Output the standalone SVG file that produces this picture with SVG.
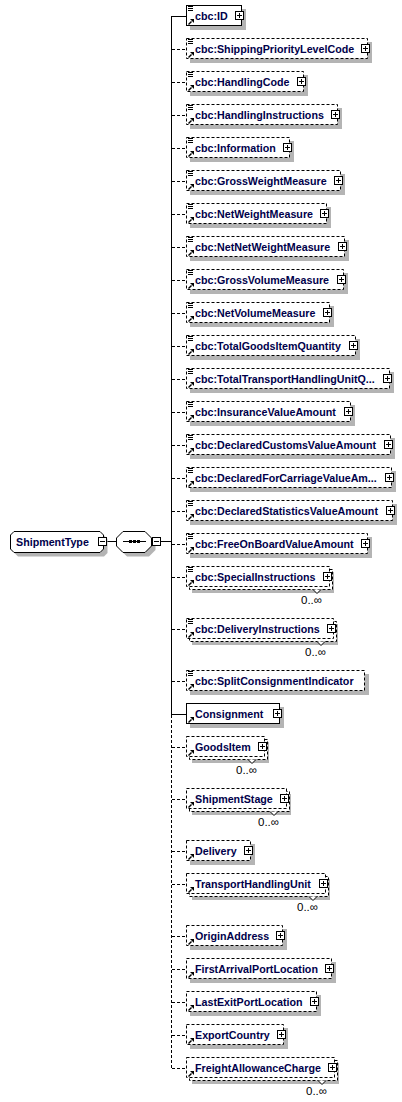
<svg xmlns="http://www.w3.org/2000/svg" xmlns:xlink="http://www.w3.org/1999/xlink" width="402" height="1102" viewBox="0 0 402 1102">
<style>
.sh{fill:#b4b4b4}
.box{fill:#fff;stroke:#000;stroke-width:1}
.opt{stroke-dasharray:3,2}
.t{font-family:"Liberation Sans",Arial,sans-serif;font-size:10.7px;font-weight:bold;fill:#00004a}
.m{font-family:"Liberation Sans",Arial,sans-serif;font-size:11.5px;fill:#000;text-anchor:end}
.ln{fill:none;stroke:#000;stroke-width:1}
.notch{fill:#fff;stroke:#000;stroke-width:1}
</style>
<defs>
<g id="plus"><rect x="0.5" y="-4.5" width="8" height="8" fill="#fff" stroke="#000"/><path d="M2,-0.5h5M4.5,-3v5" stroke="#000" fill="none"/></g>
<g id="minus"><rect x="0.5" y="-4.5" width="8" height="8" fill="#fff" stroke="#000"/><path d="M2,-0.5h5" stroke="#000" fill="none"/></g>
<path id="eq" d="M188,-9.5h5M188,-7.5h5M188,-5.5h5" stroke="#000" fill="none"/>
<g id="arr"><path d="M188.5,8.5L191.5,5.5" stroke="#000" stroke-width="1.4" fill="none"/><polygon points="190,3 194,3 194,7" fill="#000"/></g>
</defs>

<g id="connectors" class="ln">
<path d="M106,541.5H117M160,541.5H171"/>
<path d="M171.5,16V715"/>
<path class="opt" d="M171.5,715V1069"/>
<path d="M171,16.5H186M171,714.5H186"/>
<path class="opt" d="M172,49.5H186M172,82.5H186M172,115.5H186M172,148.5H186M172,181.5H186M172,214.5H186M172,247.5H186M172,280.5H186M172,313.5H186M172,346.5H186M172,379.5H186M172,412.5H186M172,445.5H186M172,478.5H186M172,511.5H186M172,544.5H186M172,577.5H186M172,629.5H186M172,681.5H186M172,747.5H186M172,799.5H186M172,851.5H186M172,884.5H186M172,936.5H186M172,969.5H186M172,1002.5H186M172,1035.5H186M172,1068.5H186"/>
</g>

<g id="n-ShipmentType">
<polygon class="sh" points="18,535.5 104,535.5 107.5,539 107.5,553 104,556.5 18,556.5 14.5,553 14.5,539"/>
<polygon class="box" points="14,531.5 100,531.5 103.5,535 103.5,549 100,552.5 14,552.5 10.5,549 10.5,535"/>
<text class="t" x="16" y="546">ShipmentType</text>
<use xlink:href="#minus" x="98" y="542"/>
</g>

<g id="n-sequence">
<polygon class="sh" points="127,535.5 149,535.5 155.5,542 155.5,550 149,556.5 127,556.5 120.5,550 120.5,542"/>
<polygon class="box" points="123,531.5 145,531.5 151.5,538 151.5,546 145,552.5 123,552.5 116.5,546 116.5,538"/>
<path d="M123,541.5H146" stroke="#000" fill="none"/>
<rect x="129" y="540" width="3" height="3" fill="#000"/>
<rect x="133" y="540" width="3" height="3" fill="#000"/>
<rect x="137" y="540" width="3" height="3" fill="#000"/>
<use xlink:href="#minus" x="152" y="542"/>
</g>

<g id="n-ID">
<rect class="sh" x="190" y="9" width="56" height="21"/>
<rect class="box" x="186.5" y="5.5" width="55" height="20"/>
<use xlink:href="#eq" y="16"/><use xlink:href="#arr" y="16"/>
<text class="t" x="195" y="20">cbc:ID</text>
<use xlink:href="#plus" x="235" y="16"/>
</g>

<g id="n-ShippingPriorityLevelCode">
<rect class="sh" x="190" y="42" width="182" height="21"/>
<rect class="box opt" x="186.5" y="38.5" width="181" height="20"/>
<use xlink:href="#eq" y="49"/><use xlink:href="#arr" y="49"/>
<text class="t" x="195" y="53">cbc:ShippingPriorityLevelCode</text>
<use xlink:href="#plus" x="361" y="49"/>
</g>

<g id="n-HandlingCode">
<rect class="sh" x="190" y="75" width="118" height="21"/>
<rect class="box opt" x="186.5" y="71.5" width="117" height="20"/>
<use xlink:href="#eq" y="82"/><use xlink:href="#arr" y="82"/>
<text class="t" x="195" y="86">cbc:HandlingCode</text>
<use xlink:href="#plus" x="297" y="82"/>
</g>

<g id="n-HandlingInstructions">
<rect class="sh" x="190" y="108" width="152" height="21"/>
<rect class="box opt" x="186.5" y="104.5" width="151" height="20"/>
<use xlink:href="#eq" y="115"/><use xlink:href="#arr" y="115"/>
<text class="t" x="195" y="119">cbc:HandlingInstructions</text>
<use xlink:href="#plus" x="331" y="115"/>
</g>

<g id="n-Information">
<rect class="sh" x="190" y="141" width="104" height="21"/>
<rect class="box opt" x="186.5" y="137.5" width="103" height="20"/>
<use xlink:href="#eq" y="148"/><use xlink:href="#arr" y="148"/>
<text class="t" x="195" y="152">cbc:Information</text>
<use xlink:href="#plus" x="283" y="148"/>
</g>

<g id="n-GrossWeightMeasure">
<rect class="sh" x="190" y="174" width="155" height="21"/>
<rect class="box opt" x="186.5" y="170.5" width="154" height="20"/>
<use xlink:href="#eq" y="181"/><use xlink:href="#arr" y="181"/>
<text class="t" x="195" y="185">cbc:GrossWeightMeasure</text>
<use xlink:href="#plus" x="334" y="181"/>
</g>

<g id="n-NetWeightMeasure">
<rect class="sh" x="190" y="207" width="141" height="21"/>
<rect class="box opt" x="186.5" y="203.5" width="140" height="20"/>
<use xlink:href="#eq" y="214"/><use xlink:href="#arr" y="214"/>
<text class="t" x="195" y="218">cbc:NetWeightMeasure</text>
<use xlink:href="#plus" x="320" y="214"/>
</g>

<g id="n-NetNetWeightMeasure">
<rect class="sh" x="190" y="240" width="159" height="21"/>
<rect class="box opt" x="186.5" y="236.5" width="158" height="20"/>
<use xlink:href="#eq" y="247"/><use xlink:href="#arr" y="247"/>
<text class="t" x="195" y="251">cbc:NetNetWeightMeasure</text>
<use xlink:href="#plus" x="338" y="247"/>
</g>

<g id="n-GrossVolumeMeasure">
<rect class="sh" x="190" y="273" width="158" height="21"/>
<rect class="box opt" x="186.5" y="269.5" width="157" height="20"/>
<use xlink:href="#eq" y="280"/><use xlink:href="#arr" y="280"/>
<text class="t" x="195" y="284">cbc:GrossVolumeMeasure</text>
<use xlink:href="#plus" x="337" y="280"/>
</g>

<g id="n-NetVolumeMeasure">
<rect class="sh" x="190" y="306" width="144" height="21"/>
<rect class="box opt" x="186.5" y="302.5" width="143" height="20"/>
<use xlink:href="#eq" y="313"/><use xlink:href="#arr" y="313"/>
<text class="t" x="195" y="317">cbc:NetVolumeMeasure</text>
<use xlink:href="#plus" x="323" y="313"/>
</g>

<g id="n-TotalGoodsItemQuantity">
<rect class="sh" x="190" y="339" width="170" height="21"/>
<rect class="box opt" x="186.5" y="335.5" width="169" height="20"/>
<use xlink:href="#eq" y="346"/><use xlink:href="#arr" y="346"/>
<text class="t" x="195" y="350">cbc:TotalGoodsItemQuantity</text>
<use xlink:href="#plus" x="349" y="346"/>
</g>

<g id="n-TotalTransportHandlingUnitQuantity">
<rect class="sh" x="190" y="372" width="204" height="21"/>
<rect class="box opt" x="186.5" y="368.5" width="203" height="20"/>
<use xlink:href="#eq" y="379"/><use xlink:href="#arr" y="379"/>
<text class="t" x="195" y="383">cbc:TotalTransportHandlingUnitQ...</text>
<use xlink:href="#plus" x="383" y="379"/>
</g>

<g id="n-InsuranceValueAmount">
<rect class="sh" x="190" y="405" width="165" height="21"/>
<rect class="box opt" x="186.5" y="401.5" width="164" height="20"/>
<use xlink:href="#eq" y="412"/><use xlink:href="#arr" y="412"/>
<text class="t" x="195" y="416">cbc:InsuranceValueAmount</text>
<use xlink:href="#plus" x="344" y="412"/>
</g>

<g id="n-DeclaredCustomsValueAmount">
<rect class="sh" x="190" y="438" width="205" height="21"/>
<rect class="box opt" x="186.5" y="434.5" width="204" height="20"/>
<use xlink:href="#eq" y="445"/><use xlink:href="#arr" y="445"/>
<text class="t" x="195" y="449">cbc:DeclaredCustomsValueAmount</text>
<use xlink:href="#plus" x="384" y="445"/>
</g>

<g id="n-DeclaredForCarriageValueAmount">
<rect class="sh" x="190" y="471" width="206" height="21"/>
<rect class="box opt" x="186.5" y="467.5" width="205" height="20"/>
<use xlink:href="#eq" y="478"/><use xlink:href="#arr" y="478"/>
<text class="t" x="195" y="482">cbc:DeclaredForCarriageValueAm...</text>
<use xlink:href="#plus" x="385" y="478"/>
</g>

<g id="n-DeclaredStatisticsValueAmount">
<rect class="sh" x="190" y="504" width="207" height="21"/>
<rect class="box opt" x="186.5" y="500.5" width="206" height="20"/>
<use xlink:href="#eq" y="511"/><use xlink:href="#arr" y="511"/>
<text class="t" x="195" y="515">cbc:DeclaredStatisticsValueAmount</text>
<use xlink:href="#plus" x="386" y="511"/>
</g>

<g id="n-FreeOnBoardValueAmount">
<rect class="sh" x="190" y="537" width="182" height="21"/>
<rect class="box opt" x="186.5" y="533.5" width="181" height="20"/>
<use xlink:href="#eq" y="544"/><use xlink:href="#arr" y="544"/>
<text class="t" x="195" y="548">cbc:FreeOnBoardValueAmount</text>
<use xlink:href="#plus" x="361" y="544"/>
</g>

<g id="n-SpecialInstructions">
<rect class="sh" x="192" y="572" width="142" height="21"/>
<rect class="box opt" x="189.5" y="569.5" width="143" height="20"/>
<rect class="box opt" x="186.5" y="566.5" width="143" height="20"/>
<polyline class="notch" points="313,589.5 317,593.5 321,589.5"/>
<use xlink:href="#eq" y="577"/><use xlink:href="#arr" y="577"/>
<text class="t" x="195" y="581">cbc:SpecialInstructions</text>
<use xlink:href="#plus" x="323" y="577"/>
<text class="m" x="322" y="604">0..∞</text>
</g>

<g id="n-DeliveryInstructions">
<rect class="sh" x="192" y="624" width="146" height="21"/>
<rect class="box opt" x="189.5" y="621.5" width="147" height="20"/>
<rect class="box opt" x="186.5" y="618.5" width="147" height="20"/>
<polyline class="notch" points="317,641.5 321,645.5 325,641.5"/>
<use xlink:href="#eq" y="629"/><use xlink:href="#arr" y="629"/>
<text class="t" x="195" y="633">cbc:DeliveryInstructions</text>
<use xlink:href="#plus" x="327" y="629"/>
<text class="m" x="326" y="656">0..∞</text>
</g>

<g id="n-SplitConsignmentIndicator">
<rect class="sh" x="190" y="674" width="179" height="21"/>
<rect class="box opt" x="186.5" y="670.5" width="178" height="20"/>
<use xlink:href="#eq" y="681"/><use xlink:href="#arr" y="681"/>
<text class="t" x="195" y="685">cbc:SplitConsignmentIndicator</text>
</g>

<g id="n-Consignment">
<rect class="sh" x="190" y="707" width="94" height="21"/>
<rect class="box" x="186.5" y="703.5" width="93" height="20"/>
<use xlink:href="#arr" y="714"/>
<text class="t" x="195" y="718">Consignment</text>
<use xlink:href="#plus" x="273" y="714"/>
</g>

<g id="n-GoodsItem">
<rect class="sh" x="192" y="742" width="77" height="21"/>
<rect class="box opt" x="189.5" y="739.5" width="78" height="20"/>
<rect class="box opt" x="186.5" y="736.5" width="78" height="20"/>
<polyline class="notch" points="248,759.5 252,763.5 256,759.5"/>
<use xlink:href="#arr" y="747"/>
<text class="t" x="195" y="751">GoodsItem</text>
<use xlink:href="#plus" x="258" y="747"/>
<text class="m" x="257" y="774">0..∞</text>
</g>

<g id="n-ShipmentStage">
<rect class="sh" x="192" y="794" width="99" height="21"/>
<rect class="box opt" x="189.5" y="791.5" width="100" height="20"/>
<rect class="box opt" x="186.5" y="788.5" width="100" height="20"/>
<polyline class="notch" points="270,811.5 274,815.5 278,811.5"/>
<use xlink:href="#arr" y="799"/>
<text class="t" x="195" y="803">ShipmentStage</text>
<use xlink:href="#plus" x="280" y="799"/>
<text class="m" x="279" y="826">0..∞</text>
</g>

<g id="n-Delivery">
<rect class="sh" x="190" y="844" width="65" height="21"/>
<rect class="box opt" x="186.5" y="840.5" width="64" height="20"/>
<use xlink:href="#arr" y="851"/>
<text class="t" x="195" y="855">Delivery</text>
<use xlink:href="#plus" x="244" y="851"/>
</g>

<g id="n-TransportHandlingUnit">
<rect class="sh" x="192" y="879" width="138" height="21"/>
<rect class="box opt" x="189.5" y="876.5" width="139" height="20"/>
<rect class="box opt" x="186.5" y="873.5" width="139" height="20"/>
<polyline class="notch" points="309,896.5 313,900.5 317,896.5"/>
<use xlink:href="#arr" y="884"/>
<text class="t" x="195" y="888">TransportHandlingUnit</text>
<use xlink:href="#plus" x="319" y="884"/>
<text class="m" x="318" y="911">0..∞</text>
</g>

<g id="n-OriginAddress">
<rect class="sh" x="190" y="929" width="97" height="21"/>
<rect class="box opt" x="186.5" y="925.5" width="96" height="20"/>
<use xlink:href="#arr" y="936"/>
<text class="t" x="195" y="940">OriginAddress</text>
<use xlink:href="#plus" x="276" y="936"/>
</g>

<g id="n-FirstArrivalPortLocation">
<rect class="sh" x="190" y="962" width="146" height="21"/>
<rect class="box opt" x="186.5" y="958.5" width="145" height="20"/>
<use xlink:href="#arr" y="969"/>
<text class="t" x="195" y="973">FirstArrivalPortLocation</text>
<use xlink:href="#plus" x="325" y="969"/>
</g>

<g id="n-LastExitPortLocation">
<rect class="sh" x="190" y="995" width="131" height="21"/>
<rect class="box opt" x="186.5" y="991.5" width="130" height="20"/>
<use xlink:href="#arr" y="1002"/>
<text class="t" x="195" y="1006">LastExitPortLocation</text>
<use xlink:href="#plus" x="310" y="1002"/>
</g>

<g id="n-ExportCountry">
<rect class="sh" x="190" y="1028" width="98" height="21"/>
<rect class="box opt" x="186.5" y="1024.5" width="97" height="20"/>
<use xlink:href="#arr" y="1035"/>
<text class="t" x="195" y="1039">ExportCountry</text>
<use xlink:href="#plus" x="277" y="1035"/>
</g>

<g id="n-FreightAllowanceCharge">
<rect class="sh" x="192" y="1063" width="147" height="21"/>
<rect class="box opt" x="189.5" y="1060.5" width="148" height="20"/>
<rect class="box opt" x="186.5" y="1057.5" width="148" height="20"/>
<polyline class="notch" points="318,1080.5 322,1084.5 326,1080.5"/>
<use xlink:href="#arr" y="1068"/>
<text class="t" x="195" y="1072">FreightAllowanceCharge</text>
<use xlink:href="#plus" x="328" y="1068"/>
<text class="m" x="327" y="1095">0..∞</text>
</g>
</svg>
